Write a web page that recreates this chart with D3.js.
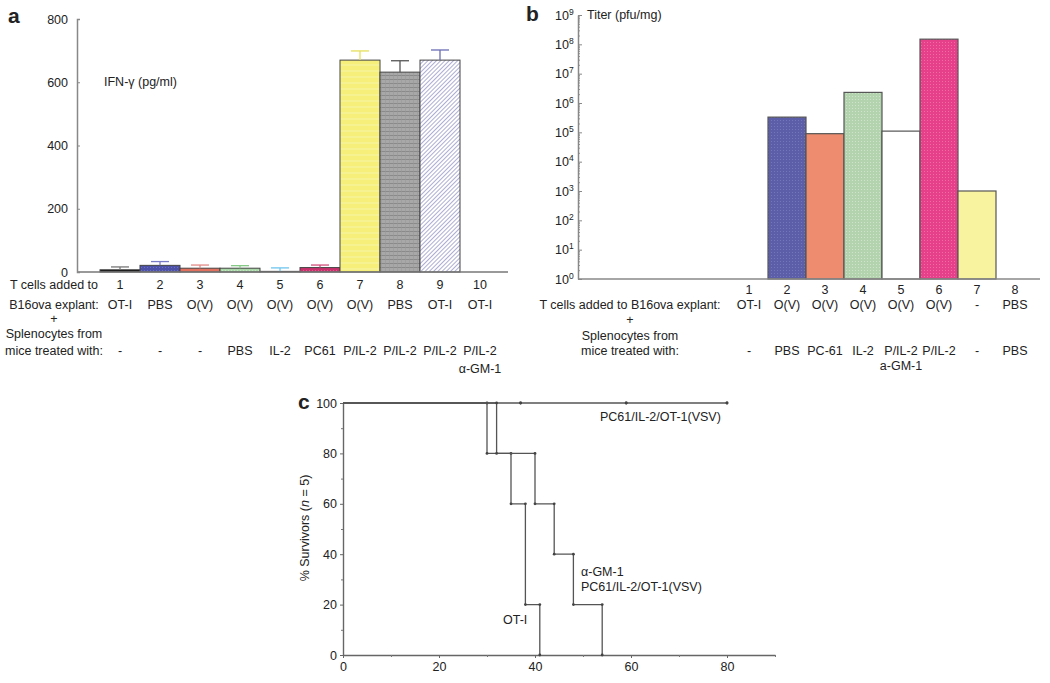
<!DOCTYPE html>
<html>
<head>
<meta charset="utf-8">
<script src="https://cdn.jsdelivr.net/npm/d3@7"></script>
<style>
  body { margin: 0; background: #fff; }
  svg { display: block; font-family: "Liberation Sans", Arial, Helvetica, sans-serif; }
</style>
</head>
<body>
<svg id="chart" width="1050" height="683"></svg>
<script>
// ---------- Panel a data ----------
const catsA = ["1","2","3","4","5","6","7","8","9","10"];
const tCellsA = ["OT-I","PBS","O(V)","O(V)","O(V)","O(V)","O(V)","PBS","OT-I","OT-I"];
const spleenA = ["-","-","-","PBS","IL-2","PC61","P/IL-2","P/IL-2","P/IL-2","P/IL-2"];
const spleenA2 = ["","","","","","","","","","α-GM-1"];
const ifnValues = [7, 21, 12, 12, 2, 14, 670, 632, 670, 0];
const ifnErrTop = [16, 33, 22, 20, 13, 22, 699, 668, 702, null];
const ticksA = [0, 200, 400, 600, 800];

// ---------- Panel b data ----------
const catsB = ["1","2","3","4","5","6","7","8"];
const tCellsB = ["OT-I","O(V)","O(V)","O(V)","O(V)","O(V)","-","PBS"];
const spleenB = ["-","PBS","PC-61","IL-2","P/IL-2","P/IL-2","-","PBS"];
const spleenB2 = ["","","","","a-GM-1","","",""];
const titer = [1, 3.3e5, 9e4, 2.3e6, 1.1e5, 1.5e8, 1e3, 1];
const ticksB = [1,1e1,1e2,1e3,1e4,1e5,1e6,1e7,1e8,1e9];

// ---------- Panel c data ----------
const pcDays = [0, 37, 59, 80];
const pcSurv = [100, 100, 100, 100];
const otDays = [0, 30, 35, 38, 41];
const otSurv = [100, 80, 60, 20, 0];
const gmDays = [0, 32, 40, 44, 48, 54];
const gmSurv = [100, 80, 60, 40, 20, 0];
const ticksCx = [0, 20, 40, 60, 80];
const ticksCy = [0, 20, 40, 60, 80, 100];

const svg = d3.select("#chart");
const FS = 12.5;
const defs = svg.append("defs");

// patterns
const p9 = defs.append("pattern").attr("id","hatch9").attr("patternUnits","userSpaceOnUse")
  .attr("width",3).attr("height",3).attr("patternTransform","rotate(45)");
p9.append("rect").attr("width",3).attr("height",3).attr("fill","#ffffff");
p9.append("line").attr("x1",0).attr("y1",0).attr("x2",0).attr("y2",3).attr("stroke","#8082bc").attr("stroke-width",1.3);

const p8 = defs.append("pattern").attr("id","stripe8").attr("patternUnits","userSpaceOnUse")
  .attr("width",4).attr("height",4);
p8.append("rect").attr("width",4).attr("height",4).attr("fill","#a8a8a8");
p8.append("line").attr("x1",0).attr("y1",3.5).attr("x2",4).attr("y2",3.5).attr("stroke","#8a8a8a").attr("stroke-width",1);
p8.append("line").attr("x1",1.5).attr("y1",0).attr("x2",1.5).attr("y2",4).attr("stroke","#999").attr("stroke-width",0.6);

const p7 = defs.append("pattern").attr("id","stripe7").attr("patternUnits","userSpaceOnUse")
  .attr("width",4).attr("height",6);
p7.append("rect").attr("width",4).attr("height",6).attr("fill","#f6f07a");
p7.append("line").attr("x1",0).attr("y1",5).attr("x2",4).attr("y2",5).attr("stroke","#f9f5a8").attr("stroke-width",1);

function dots(id, color, light) {
  const p = defs.append("pattern").attr("id",id).attr("patternUnits","userSpaceOnUse").attr("width",3).attr("height",3);
  p.append("rect").attr("width",3).attr("height",3).attr("fill",color);
  p.append("rect").attr("x",0).attr("y",0).attr("width",1).attr("height",1).attr("fill",light);
  return `url(#${id})`;
}

const fillA = ["#111111", dots("dA2","#4d52a8","#6a6fc0"), "#e2705f", dots("dA4","#a8d6a6","#c4e6c2"),
  "#86cbe9", dots("dA6","#c9306c","#dc5a8a"), "url(#stripe7)", "url(#stripe8)", "url(#hatch9)", "#ffffff"];
const errColA = ["#777","#7a7cc8","#e38a86","#86c986","#6fc6ee","#d24f7a","#e6df5a","#555","#6a6cb4","#fff"];

const fillB = ["#fff", dots("dB2","#5c5fa8","#7376ba"), "#ed8c6e", dots("dB4","#b3d2ae","#cfe3cb"),
  "#ffffff", dots("dB6","#e6408a","#f06aa4"), "#f8f39e", "#fff"];

// ================= Panel a =================
const xA = d3.scaleBand().domain(catsA).range([100, 500]).padding(0);
const yA = d3.scaleLinear().domain([0, 800]).range([272, 19]);

const gA = svg.append("g");
gA.selectAll("rect.bar").data(catsA).join("rect")
  .attr("class","bar")
  .attr("x", d => xA(d))
  .attr("width", xA.bandwidth())
  .attr("y", (d,i) => yA(ifnValues[i]))
  .attr("height", (d,i) => yA(0) - yA(ifnValues[i]))
  .attr("fill", (d,i) => fillA[i])
  .attr("stroke", (d,i) => ifnValues[i] > 0 ? "#444" : "none")
  .attr("stroke-width", 1);

// error bars
catsA.forEach((c,i) => {
  if (ifnErrTop[i] == null) return;
  const cx = xA(c) + xA.bandwidth()/2;
  gA.append("line").attr("x1",cx).attr("x2",cx).attr("y1",yA(ifnValues[i])).attr("y2",yA(ifnErrTop[i]))
    .attr("stroke",errColA[i]).attr("stroke-width",1.3);
  gA.append("line").attr("x1",cx-9).attr("x2",cx+9).attr("y1",yA(ifnErrTop[i])).attr("y2",yA(ifnErrTop[i]))
    .attr("stroke",errColA[i]).attr("stroke-width",1.3);
});

// baseline
gA.append("line").attr("x1",77).attr("x2",508).attr("y1",yA(0)).attr("y2",yA(0)).attr("stroke","#777").attr("stroke-width",1.3);
// y axis
const axA = gA.append("g").attr("transform","translate(77,0)")
  .call(d3.axisLeft(yA).tickValues(ticksA).tickSizeInner(-3).tickSizeOuter(-3).tickPadding(9));
axA.select(".domain").attr("stroke","#888").attr("stroke-width",1.5);
axA.selectAll(".tick line").attr("stroke","#888");
axA.selectAll("text").attr("font-size",FS).attr("fill","#222").attr("font-family","Liberation Sans, Arial, sans-serif");

gA.append("text").attr("x",104).attr("y",86).attr("font-size",FS).attr("fill","#222").text("IFN-γ (pg/ml)");
svg.append("text").attr("x",8).attr("y",23).attr("font-size",21).attr("font-weight","bold").attr("fill","#222").text("a");

// category rows
function rows(g, x, cats, rowY, data) {
  cats.forEach((c,i) => {
    const cx = x(c) + x.bandwidth()/2;
    g.append("text").attr("x",cx).attr("y",rowY[0]).attr("text-anchor","middle").attr("font-size",FS).attr("fill","#222").text(c);
    g.append("text").attr("x",cx).attr("y",rowY[1]).attr("text-anchor","middle").attr("font-size",FS).attr("fill","#222").text(data[0][i]);
    g.append("text").attr("x",cx).attr("y",rowY[4]).attr("text-anchor","middle").attr("font-size",FS).attr("fill","#222").text(data[1][i]);
    if (data[2][i]) g.append("text").attr("x",cx).attr("y",rowY[5]).attr("text-anchor","middle").attr("font-size",FS).attr("fill","#222").text(data[2][i]);
  });
}
rows(gA, xA, catsA, [289, 309, 323, 338, 355, 373], [tCellsA, spleenA, spleenA2]);
const labA = [["T cells added to",289],["B16ova explant:",309],["+",323],["Splenocytes from",338],["mice treated with:",355]];
labA.forEach(l => gA.append("text").attr("x",54).attr("y",l[1]).attr("text-anchor","middle").attr("font-size",FS).attr("fill","#222").text(l[0]));

// ================= Panel b =================
const xB = d3.scaleBand().domain(catsB).range([730, 1034]).padding(0);
const yB = d3.scaleLog().domain([1, 1e9]).range([279, 15]);
const gB = svg.append("g");

gB.selectAll("rect.bar").data(catsB).join("rect")
  .attr("class","bar")
  .attr("x", d => xB(d))
  .attr("width", xB.bandwidth())
  .attr("y", (d,i) => yB(titer[i]))
  .attr("height", (d,i) => yB(1) - yB(titer[i]))
  .attr("fill", (d,i) => fillB[i])
  .attr("stroke", (d,i) => titer[i] > 1 ? "#555" : "none")
  .attr("stroke-width", 1.2);

gB.append("line").attr("x1",578).attr("x2",1040).attr("y1",yB(1)).attr("y2",yB(1)).attr("stroke","#888").attr("stroke-width",1.5);

// minor log ticks
const minorB = [];
for (let e = 0; e < 9; e++) for (let m = 2; m <= 9; m++) minorB.push(m * Math.pow(10, e));
const axBm = gB.append("g").attr("transform","translate(578,0)")
  .call(d3.axisLeft(yB).tickValues(minorB).tickSizeInner(-2).tickSizeOuter(0).tickFormat(""));
axBm.select(".domain").remove();
axBm.selectAll(".tick line").attr("stroke","#999");
const axB = gB.append("g").attr("transform","translate(578,0)")
  .call(d3.axisLeft(yB).tickValues(ticksB).tickSizeInner(-4).tickSizeOuter(0).tickPadding(12).tickFormat(""));
axB.select(".domain").attr("stroke","#888").attr("stroke-width",1.5);
axB.selectAll(".tick line").attr("stroke","#888");
axB.selectAll(".tick text").each(function(d) {
  const t = d3.select(this).attr("font-size",FS).attr("fill","#222").attr("x",-23).attr("text-anchor","start")
    .attr("font-family","Liberation Sans, Arial, sans-serif");
  t.append("tspan").text("10");
  t.append("tspan").attr("dy",-5).attr("font-size",8.5).text(Math.round(Math.log10(d)));
});

gB.append("text").attr("x",587).attr("y",19).attr("font-size",FS).attr("fill","#222").text("Titer (pfu/mg)");
svg.append("text").attr("x",526).attr("y",21).attr("font-size",21).attr("font-weight","bold").attr("fill","#222").text("b");

rows(gB, xB, catsB, [294, 309, 324, 340, 355, 370], [tCellsB, spleenB, spleenB2]);
const labB = [["T cells added to B16ova explant:",309],["+",324],["Splenocytes from",340],["mice treated with:",355]];
labB.forEach(l => gB.append("text").attr("x",630).attr("y",l[1]).attr("text-anchor","middle").attr("font-size",FS).attr("fill","#222").text(l[0]));

// ================= Panel c =================
const xC = d3.scaleLinear().domain([0, 90]).range([343, 775]);
const yC = d3.scaleLinear().domain([0, 100]).range([655, 403]);
const gC = svg.append("g");

const axCx = gC.append("g").attr("transform",`translate(0,${yC(0)})`)
  .call(d3.axisBottom(xC).tickValues(ticksCx).tickSizeInner(3).tickSizeOuter(0).tickPadding(4));
gC.append("g").attr("transform",`translate(0,${yC(0)})`)
  .call(d3.axisBottom(xC).tickValues([10,30,50,70,90]).tickSizeInner(2).tickSizeOuter(0).tickFormat(""))
  .call(g => g.select(".domain").remove()).selectAll("line").attr("stroke","#777");
const axCy = gC.append("g").attr("transform",`translate(${xC(0)},0)`)
  .call(d3.axisLeft(yC).tickValues(ticksCy).tickSizeInner(3).tickSizeOuter(0).tickPadding(3));
gC.append("g").attr("transform",`translate(${xC(0)},0)`)
  .call(d3.axisLeft(yC).tickValues([10,30,50,70,90]).tickSizeInner(2).tickSizeOuter(0).tickFormat(""))
  .call(g => g.select(".domain").remove()).selectAll("line").attr("stroke","#777");
[axCx, axCy].forEach(a => {
  a.select(".domain").attr("stroke","#666").attr("stroke-width",1.4);
  a.selectAll(".tick line").attr("stroke","#666");
  a.selectAll("text").attr("font-size",FS).attr("fill","#222").attr("font-family","Liberation Sans, Arial, sans-serif");
});

const line = d3.line().x(d => xC(d[0])).y(d => yC(d[1])).curve(d3.curveStepAfter);
function survCurve(days, surv) {
  const pts = days.map((d,i) => [d, surv[i]]);
  gC.append("path").attr("d", line(pts)).attr("fill","none").attr("stroke","#555").attr("stroke-width",1.3);
  days.forEach((d,i) => {
    if (i === 0) return;
    gC.append("circle").attr("cx",xC(d)).attr("cy",yC(surv[i-1])).attr("r",1.4).attr("fill","#444");
    gC.append("circle").attr("cx",xC(d)).attr("cy",yC(surv[i])).attr("r",1.4).attr("fill","#444");
  });
}
survCurve(pcDays, pcSurv);
survCurve(otDays, otSurv);
survCurve(gmDays, gmSurv);

gC.append("text").attr("x",600).attr("y",421).attr("font-size",FS).attr("fill","#222").text("PC61/IL-2/OT-1(VSV)");
gC.append("text").attr("x",581).attr("y",576).attr("font-size",FS).attr("fill","#222").text("α-GM-1");
gC.append("text").attr("x",581).attr("y",591).attr("font-size",FS).attr("fill","#222").text("PC61/IL-2/OT-1(VSV)");
gC.append("text").attr("x",503).attr("y",624).attr("font-size",FS).attr("fill","#222").text("OT-I");

const yl = gC.append("text").attr("transform","translate(309,528) rotate(-90)").attr("text-anchor","middle")
  .attr("font-size",FS).attr("fill","#222");
yl.append("tspan").text("% Survivors (");
yl.append("tspan").attr("font-style","italic").text("n");
yl.append("tspan").text(" = 5)");
svg.append("text").attr("x",298).attr("y",409).attr("font-size",21).attr("font-weight","bold").attr("fill","#222").text("c");
</script>
</body>
</html>
